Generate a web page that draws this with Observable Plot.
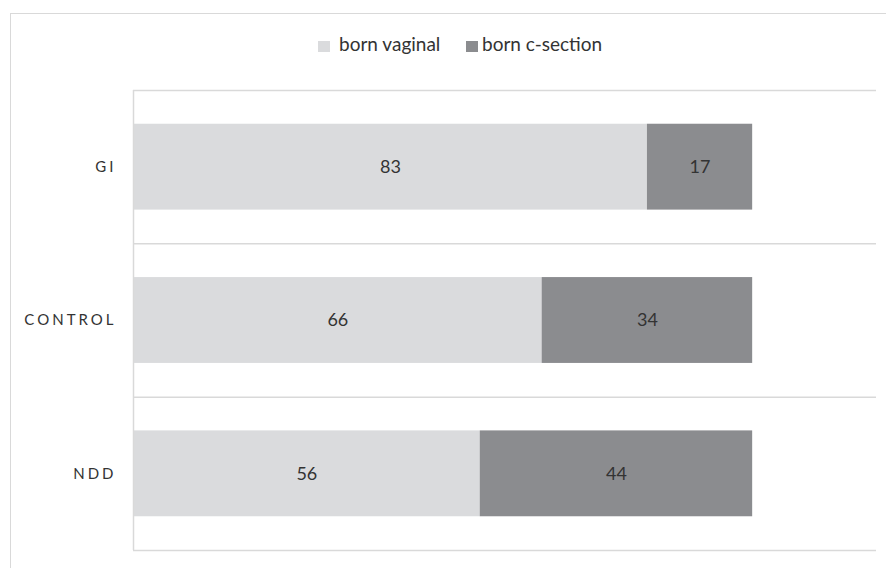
<!DOCTYPE html>
<html>
<head>
<meta charset="utf-8">
<script src="https://cdn.jsdelivr.net/npm/d3@7"></script>
<script src="https://cdn.jsdelivr.net/npm/@observablehq/plot@0.6"></script>
<style>
  html, body { margin: 0; padding: 0; background: #fff; width: 886px; height: 568px; overflow: hidden; }
  body { position: relative; font-family: Lato, "Open Sans", sans-serif; color: #404040; }
  #frame { position: absolute; left: 10px; top: 13px; width: 900px; height: 600px; border: 1.5px solid #d9d9d9; box-sizing: border-box; pointer-events: none; }
  #legend { position: relative; height: 70px; font-size: 19px; color: #333; }
  #legend .sw { position: absolute; top: 41px; width: 12px; height: 11px; }
  #legend .lb { position: absolute; top: 33px; line-height: 22px; white-space: nowrap; }
  #chart { position: relative; }
  g[aria-label="y-axis tick label"] text { letter-spacing: 3px; }
</style>
</head>
<body>
<div id="frame"></div>
<div id="legend"></div>
<div id="chart"></div>
<script>
const categories = ["GI", "CONTROL", "NDD"];
const seriesNames = ["born vaginal", "born c-section"];
const bornVaginal = [83, 66, 56];
const bornCSection = [17, 34, 44];
const colors = ["#dadbdd", "#8b8c8f"];

const rows = [];
categories.forEach((cat, i) => {
  const vals = [bornVaginal[i], bornCSection[i]];
  let acc = 0;
  vals.forEach((v, s) => {
    rows.push({cat, i, series: seriesNames[s], value: v, x1: acc, x2: acc + v});
    acc += v;
  });
});

// legend
const legend = document.getElementById("legend");
const legendPos = [{sw: 318, lb: 339}, {sw: 466, lb: 482}];
seriesNames.forEach((name, s) => {
  const sw = document.createElement("div");
  sw.className = "sw";
  sw.style.left = legendPos[s].sw + "px";
  sw.style.background = colors[s];
  legend.appendChild(sw);
  const lb = document.createElement("div");
  lb.className = "lb";
  lb.style.left = legendPos[s].lb + "px";
  lb.textContent = name;
  legend.appendChild(lb);
});

const chart = Plot.plot({
  width: 886,
  height: 498,
  marginLeft: 133,
  marginRight: 10,
  marginTop: 20,
  marginBottom: 18,
  style: {fontFamily: "Lato, 'Open Sans', sans-serif", background: "transparent", overflow: "visible"},
  x: {domain: [0, 120], axis: null},
  y: {domain: [0, 3], reverse: true, axis: null},
  color: {domain: seriesNames, range: colors},
  marks: [
    Plot.ruleY([0, 1, 2, 3], {x1: 0, x2: 120, stroke: "#d9d9d9", strokeWidth: 1.5}),
    Plot.rectX(rows, {
      x1: "x1", x2: "x2",
      y1: d => d.i + 0.22, y2: d => d.i + 0.78,
      fill: "series"
    }),
    Plot.ruleX([0], {y1: 0, y2: 3, stroke: "#d9d9d9", strokeWidth: 1.5}),
    Plot.text(rows, {
      x: d => (d.x1 + d.x2) / 2,
      y: d => d.i + 0.5,
      text: d => String(d.value),
      fill: "#333",
      fontSize: 18
    }),
    Plot.axisY(categories.map((c, i) => i + 0.5), {
      tickSize: 0,
      tickPadding: 17,
      tickFormat: v => categories[Math.floor(v)],
      fontSize: 15,
      fill: "#333",
      label: null
    })
  ]
});
document.getElementById("chart").appendChild(chart);
</script>
</body>
</html>
